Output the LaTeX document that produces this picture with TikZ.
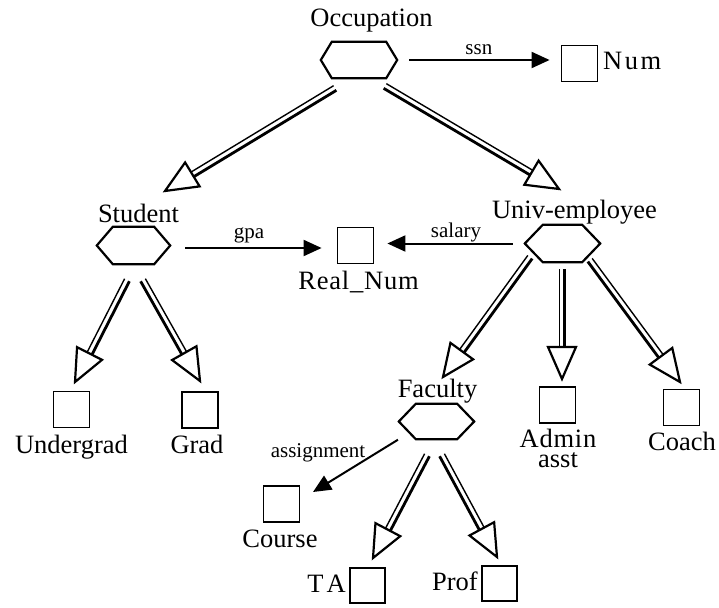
\documentclass[tikz,border=0pt]{standalone}
\usepackage{fontspec}
\setmainfont{Liberation Serif}
\usetikzlibrary{calc,arrows.meta}
\newcommand\hexnode[6]{%
  \node[inner sep=0pt, minimum width=#4pt, minimum height=#5pt] (#1) at (#2,#3) {};
  \draw[hexline] (#1.west) -- ([xshift=#6pt]#1.north west) -- ([xshift=-#6pt]#1.north east)
    -- (#1.east) -- ([xshift=-#6pt]#1.south east) -- ([xshift=#6pt]#1.south west) -- cycle;
}
\newcommand\isa[4]{%
  \draw[line width=2.8pt] ($(#1)!2.7pt!#3:(#2)$) -- ($(#2)!30pt!(#1)!2.7pt!#3:(#2)$);
  \draw[line width=1.4pt] ($(#1)!2.7pt!#4:(#2)$) -- ($(#2)!30pt!(#1)!2.7pt!#4:(#2)$);
  \draw[isahead] (#2) -- ($(#2)!32pt!(#1)!14pt!90:(#1)$) -- ($(#2)!32pt!(#1)!14pt!-90:(#1)$) -- cycle;
}
\begin{document}
\begin{tikzpicture}[x=1pt,y=-1pt,
  lbl/.style={font=\fontsize{26.5}{30}\selectfont, inner sep=0pt, anchor=base},
  sml/.style={font=\fontsize{21}{24}\selectfont, inner sep=0pt, anchor=base},
  box/.style={draw, line width=1.8pt, minimum width=36pt, minimum height=36pt, inner sep=0pt},
  hexline/.style={line width=2.2pt, line join=miter},
  isahead/.style={line width=2.2pt, fill=white, line join=miter},
  sarrow/.style={line width=2pt, -{Triangle[length=18pt,width=16pt]}}]
\useasboundingbox (0,0) rectangle (719,607);

% hexagons (entity types)
\hexnode{occ}{359}{60}{76}{36}{11}
\hexnode{stu}{133.5}{245.5}{73}{37}{16}
\hexnode{univ}{562.5}{243.5}{75}{37}{18}
\hexnode{fac}{436.5}{421.5}{75}{35}{17}

% boxes
\node[box] (num) at (579.5,63.5) {};
\node[box] (real) at (355.5,245.5) {};
\node[box] (ug) at (71.5,409.5) {};
\node[box] (grad) at (200,410) {};
\node[box] (admin) at (557.5,405) {};
\node[box] (coach) at (681.5,407.5) {};
\node[box] (course) at (281.5,504) {};
\node[box, minimum width=35pt, minimum height=35pt] (ta) at (367.5,585.5) {};
\node[box, minimum width=35pt, minimum height=35pt] (prof) at (499.5,583.5) {};

% labels
\node[lbl] (occL) at (371.5,27) {Occupation};
\node[lbl, anchor=base west] (numL) at (603,70) {N\kern2.5pt u\kern2.5pt m};
\node[lbl] (stuL) at (138.5,222) {Student};
\node[lbl] (univL) at (574.5,218) {Univ-employee};
\node[lbl] (realL) at (358.5,289) {R\kern0.8pt e\kern0.8pt a\kern0.8pt l\kern0.8pt\_\kern0.8pt N\kern0.8pt u\kern0.8pt m};
\node[lbl] (ugL) at (71.5,453) {Undergrad};
\node[lbl] (gradL) at (197,453) {Grad};
\node[lbl] (facL) at (437.5,397) {Faculty};
\node[lbl, align=center, anchor=north, font=\fontsize{26.5}{20}\selectfont] (adminL) at (558,429) {A\kern0.8pt d\kern0.8pt m\kern0.8pt i\kern0.8pt n\\asst};
\node[lbl] (coachL) at (682,450) {Coach};
\node[lbl] (courseL) at (280,547) {Course};
\node[lbl, anchor=base east] (taL) at (346,592) {T\kern3pt A};
\node[lbl, anchor=base east] (profL) at (478,590) {Prof};

% attribute arrows
\draw[sarrow, shorten <=12pt, shorten >=11pt] (occ.east) -- (occ.east -| num.west)
  node[sml, midway, above=4pt] (ssnL) {ssn};
\draw[sarrow, shorten <=15pt, shorten >=15pt] ([yshift=-2.5pt]stu.east) -- ([yshift=-2.5pt]stu.east -| real.west);
\node[sml] (gpaL) at (249,238) {gpa};
\draw[sarrow, shorten <=12pt, shorten >=13pt] (univ.west) -- (univ.west -| real.east);
\node[sml] (salL) at (456,237) {salary};
\coordinate (crsIn) at (313,492);
\draw[sarrow, shorten <=1pt] (fac.south west) -- (crsIn);
\node[sml] (asgL) at (318,457) {assignment};

% is-a arrows
\coordinate (a1s) at (335,88);  \coordinate (a1t) at (165,191);
\coordinate (a2s) at (385,86);  \coordinate (a2t) at (559,189);
\coordinate (a3s) at (127,280); \coordinate (a3t) at (75,382);
\coordinate (a4s) at (143,280); \coordinate (a4t) at (200,381);
\coordinate (a5s) at (530,257); \coordinate (a5t) at (443,377);
\coordinate (a6s) at (562,269); \coordinate (a6t) at (562,379);
\coordinate (a7s) at (590,260); \coordinate (a7t) at (680,382);
\coordinate (a8s) at (427,455); \coordinate (a8t) at (373,558);
\coordinate (a9s) at (442,455); \coordinate (a9t) at (497,557);
\isa{a1s}{a1t}{90}{-90}
\isa{a2s}{a2t}{-90}{90}
\isa{a3s}{a3t}{90}{-90}
\isa{a4s}{a4t}{-90}{90}
\isa{a5s}{a5t}{90}{-90}
\isa{a6s}{a6t}{90}{-90}
\isa{a7s}{a7t}{-90}{90}
\isa{a8s}{a8t}{90}{-90}
\isa{a9s}{a9t}{-90}{90}
\end{tikzpicture}
\end{document}
